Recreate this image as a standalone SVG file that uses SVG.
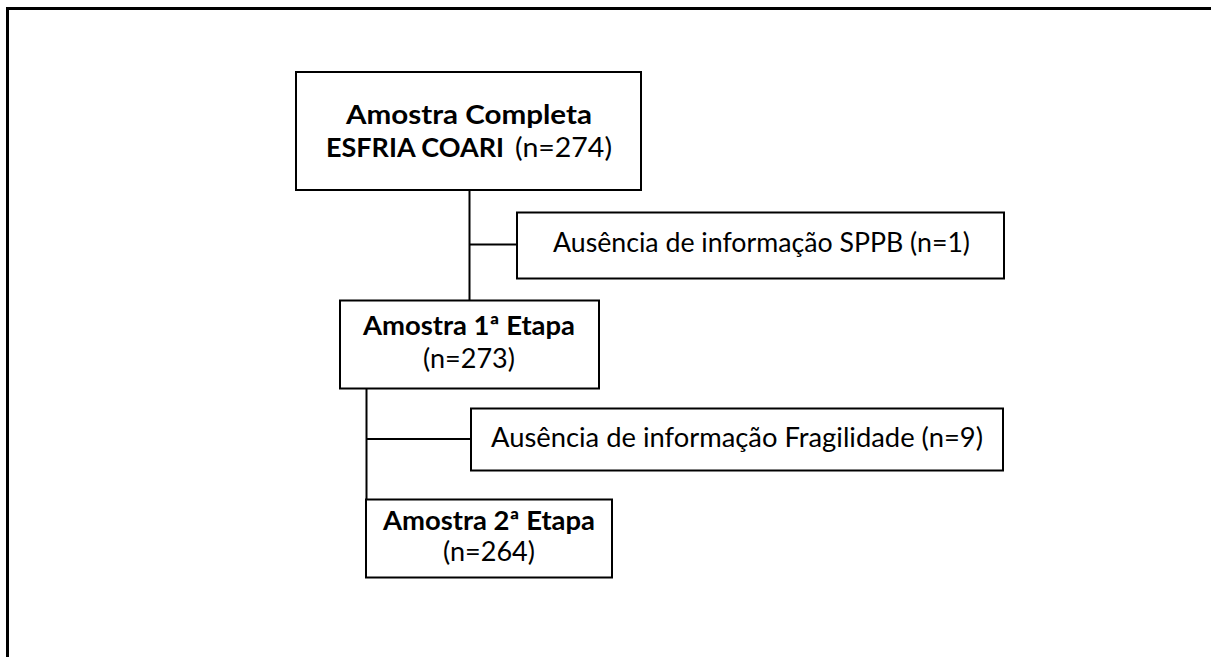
<svg xmlns="http://www.w3.org/2000/svg" width="1211" height="657" viewBox="0 0 1211 657">
<style>
.box{fill:#fff;stroke:#000;stroke-width:2}
.t{font-family:Lato,"Open Sans","Liberation Sans",sans-serif;font-size:26px;fill:#000}
.b{font-weight:bold}
.c{fill:none;stroke:#000;stroke-width:2}
</style>
<rect width="1211" height="657" fill="#fff"/>
<path d="M7.5,657 V8.5 H1211" fill="none" stroke="#000" stroke-width="3"/>
<g id="connectors">
<path class="c" d="M469.5,190 V300"/>
<path class="c" d="M469.5,244.5 H517"/>
<path class="c" d="M366.5,388 V499"/>
<path class="c" d="M366.5,439 H471"/>
</g>
<g id="n1">
<rect class="box" x="296" y="72" width="345" height="118"/>
<text class="t b" x="346" y="124" textLength="246" lengthAdjust="spacingAndGlyphs">Amostra Completa</text>
<text class="t b" x="326" y="157" textLength="178" lengthAdjust="spacingAndGlyphs">ESFRIA COARI</text>
<text class="t" x="515" y="157" textLength="97" lengthAdjust="spacingAndGlyphs">(n=274)</text>
</g>
<g id="n2">
<rect class="box" x="517" y="212.5" width="487" height="66"/>
<text class="t" x="553" y="252" textLength="417" lengthAdjust="spacingAndGlyphs">Ausência de informação SPPB (n=1)</text>
</g>
<g id="n3">
<rect class="box" x="340" y="300.5" width="259" height="88"/>
<text class="t b" x="363" y="335" textLength="212" lengthAdjust="spacingAndGlyphs">Amostra 1ª Etapa</text>
<text class="t" x="423" y="368" textLength="92" lengthAdjust="spacingAndGlyphs">(n=273)</text>
</g>
<g id="n4">
<rect class="box" x="471" y="408.5" width="532" height="62"/>
<text class="t" x="491" y="447" textLength="492" lengthAdjust="spacingAndGlyphs">Ausência de informação Fragilidade (n=9)</text>
</g>
<g id="n5">
<rect class="box" x="366" y="499.5" width="246" height="78"/>
<text class="t b" x="383" y="530" textLength="212" lengthAdjust="spacingAndGlyphs">Amostra 2ª Etapa</text>
<text class="t" x="443" y="561" textLength="92" lengthAdjust="spacingAndGlyphs">(n=264)</text>
</g>
</svg>
